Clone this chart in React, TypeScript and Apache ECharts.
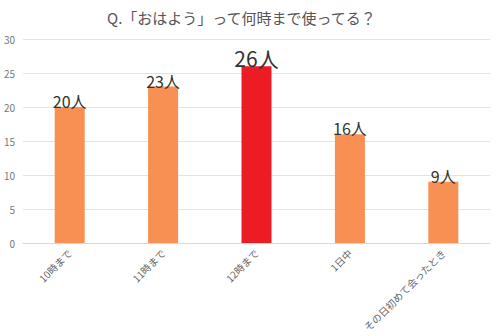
import React, { useEffect, useRef } from "react";
import * as echarts from "echarts";

const title = "Q.「おはよう」って何時まで使ってる？";
const categories = ["10時まで", "11時まで", "12時まで", "1日中", "その日初めて会ったとき"];
const values = [20, 23, 26, 16, 9];
const highlightIndex = 2;
const yTicks = { min: 0, max: 30, interval: 5 };

export default function App() {
  const ref = useRef<HTMLDivElement>(null);
  useEffect(() => {
    if (!ref.current) return;
    const chart = echarts.init(ref.current, null, { renderer: "svg" });
    const font = "'Noto Sans CJK JP', 'Noto Sans', sans-serif";
    chart.setOption({
      animation: false,
      backgroundColor: "#ffffff",
      title: {
        text: title,
        left: 102,
        top: 5,
        textStyle: { fontSize: 15, fontWeight: "normal", color: "#555555", fontFamily: font },
      },
      grid: { left: 23, right: 10, top: 39, bottom: 93, containLabel: false },
      xAxis: {
        type: "category",
        data: categories,
        axisLine: { lineStyle: { color: "#d9d9d9" } },
        axisTick: { show: false },
        axisLabel: {
          rotate: 45,
          fontSize: 10,
          color: "#666666",
          fontFamily: font,
          margin: 8,
          interval: 0,
        },
      },
      yAxis: {
        type: "value",
        min: yTicks.min,
        max: yTicks.max,
        interval: yTicks.interval,
        axisLine: { show: false },
        axisTick: { show: false },
        splitLine: { lineStyle: { color: "#e3e3e3" } },
        axisLabel: { fontSize: 10, color: "#777777", fontFamily: font, margin: 8 },
      },
      series: [
        {
          type: "bar",
          barWidth: 30,
          data: values.map((v, i) => ({
            value: v,
            itemStyle: { color: i === highlightIndex ? "#ec1c24" : "#f79052" },
            label: {
              show: true,
              position: "top",
              distance: -2,
              formatter: "{c}人",
              fontSize: i === highlightIndex ? 21 : 16,
              color: "#333333",
              fontFamily: font,
            },
          })),
        },
      ],
    });
    return () => chart.dispose();
  }, []);
  return <div ref={ref} style={{ width: 500, height: 336, position: "absolute", left: 0, top: 0 }} />;
}
